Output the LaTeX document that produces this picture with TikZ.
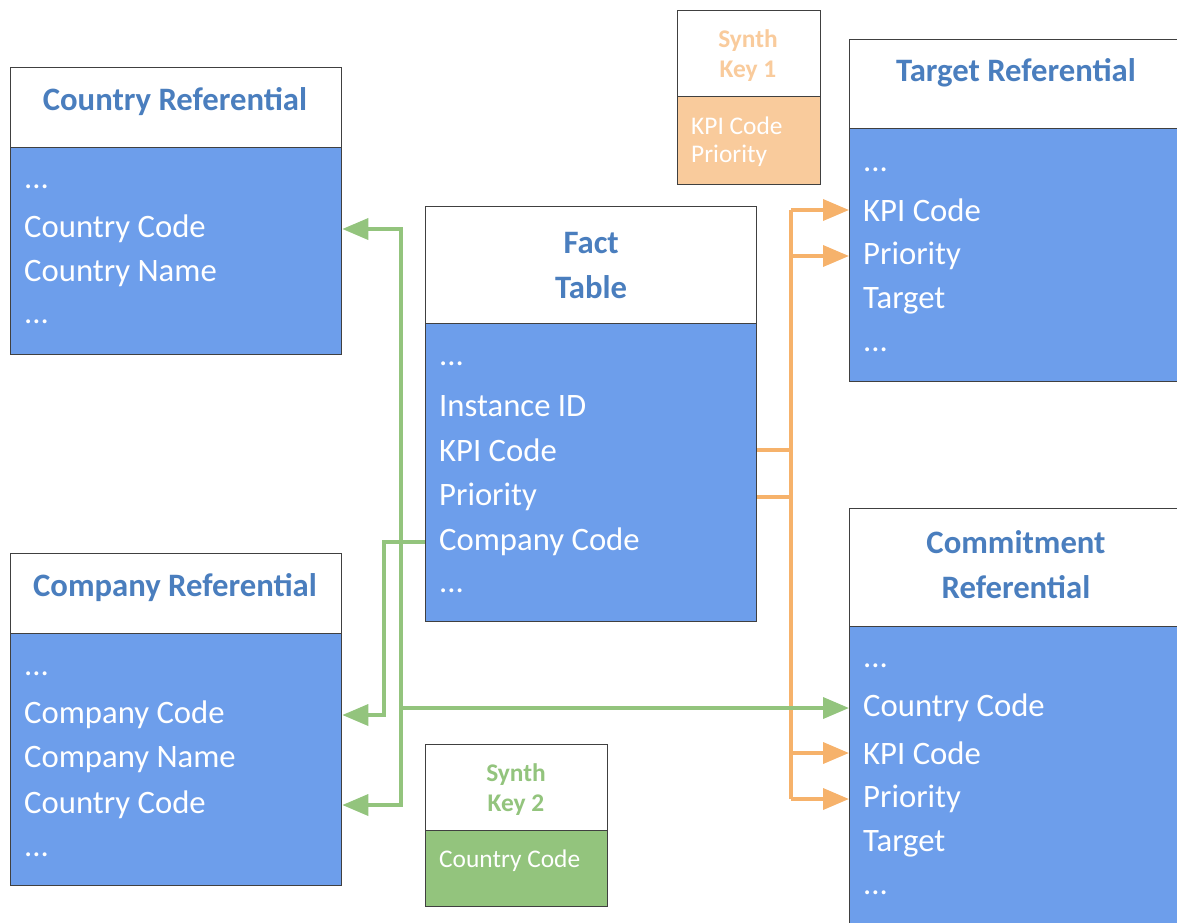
\documentclass[tikz,border=0pt]{standalone}
\usepackage{fontspec}
\setmainfont{Carlito}
\usetikzlibrary{arrows.meta}
\definecolor{tblblue}{RGB}{109,158,235}
\definecolor{ttlblue}{RGB}{74,126,190}
\definecolor{keyorange}{RGB}{249,203,156}
\definecolor{lnorange}{RGB}{246,178,107}
\definecolor{keygreen}{RGB}{147,196,125}

\begin{document}
\begin{tikzpicture}[x=1pt,y=-1pt,>={Triangle[length=26pt,width=21pt]},
    tbl/.style={draw=black!75,line width=1.3pt,anchor=north west,inner sep=0pt},
    head/.style={tbl,fill=white},
    body/.style={tbl,fill=tblblue},
    ttl/.style={font=\fontsize{32.7}{45}\selectfont\bfseries,text=ttlblue,align=center},
    row/.style={font=\fontsize{32.7}{45}\selectfont,text=white,anchor=west,inner sep=0pt},
    keyttl/.style={font=\fontsize{25.4}{30}\selectfont\bfseries,align=center},
    keyrow/.style={font=\fontsize{25.4}{30}\selectfont,text=white,anchor=west,inner sep=0pt},
    oline/.style={draw=lnorange,line width=3.6pt},
    gline/.style={draw=keygreen,line width=3.6pt}]
    \useasboundingbox (0,0) rectangle (1177,922);
    \clip (0,0) rectangle (1177,922);

    % tables
    \node[head,minimum width=331pt,minimum height=80pt] (crh) at (10,67) {};
    \node[body,minimum width=331pt,minimum height=207pt] (crb) at (10,147) {};
    \node[head,minimum width=331pt,minimum height=80pt] (cph) at (10,553) {};
    \node[body,minimum width=331pt,minimum height=252pt] (cpb) at (10,633) {};
    \node[head,minimum width=331pt,minimum height=117pt] (fth) at (425,206) {};
    \node[body,minimum width=331pt,minimum height=298pt] (ftb) at (425,323) {};
    \node[head,minimum width=345pt,minimum height=89pt] (tgh) at (849,39) {};
    \node[body,minimum width=345pt,minimum height=253pt] (tgb) at (849,128) {};
    \node[head,minimum width=345pt,minimum height=118pt] (cmh) at (849,508) {};
    \node[body,minimum width=345pt,minimum height=320pt] (cmb) at (849,626) {};
    \node[head,minimum width=143pt,minimum height=86pt] (s1h) at (677,10) {};
    \node[tbl,fill=keyorange,minimum width=143pt,minimum height=88pt] (s1b) at (677,96) {};
    \node[head,minimum width=182pt,minimum height=86pt] (s2h) at (425,744) {};
    \node[tbl,fill=keygreen,minimum width=182pt,minimum height=76pt] (s2b) at (425,830) {};

    % titles
    \node[ttl] (crttl) at (175,102) {Country Referential};
    \node[ttl] (cpttl) at (175,588) {Company Referential};
    \node[ttl] (ftttl) at (fth.center) {Fact\\Table};
    \node[ttl] (tgttl) at (1016,73) {Target Referential};
    \node[ttl] (cmttl) at (1016,565) {Commitment\\Referential};
    \node[keyttl,text=keyorange] (s1ttl) at (748,56) {Synth\\Key 1};
    \node[keyttl,text=keygreen] (s2ttl) at (516,790) {Synth\\Key 2};

    % rows
    \node[row] (crdots1) at (24,187) {...};
    \node[row] (crcode) at (24,229) {Country Code};
    \node[row] (crname) at (24,274) {Country Name};
    \node[row] (crdots2) at (24,322) {...};

    \node[row] (cpdots1) at (24,674) {...};
    \node[row] (cpcomp) at (24,715) {Company Code};
    \node[row] (cpname) at (24,760) {Company Name};
    \node[row] (cpcntry) at (24,805) {Country Code};
    \node[row] (cpdots2) at (24,855) {...};

    \node[row] (ftdots1) at (439,364) {...};
    \node[row] (ftinst) at (439,406) {Instance ID};
    \node[row] (ftkpi) at (439,450) {KPI Code};
    \node[row] (ftprio) at (439,497) {Priority};
    \node[row] (ftcomp) at (439,542) {Company Code};
    \node[row] (ftdots2) at (439,591) {...};

    \node[row] (tgdots1) at (863,170) {...};
    \node[row] (tgkpi) at (863,210) {KPI Code};
    \node[row] (tgprio) at (863,256) {Priority};
    \node[row] (tgtarget) at (863,301) {Target};
    \node[row] (tgdots2) at (863,350) {...};

    \node[row] (cmdots1) at (863,666) {...};
    \node[row] (cmcntry) at (863,708) {Country Code};
    \node[row] (cmkpi) at (863,753) {KPI Code};
    \node[row] (cmprio) at (863,799) {Priority};
    \node[row] (cmtarget) at (863,844) {Target};
    \node[row] (cmdots2) at (863,893) {...};

    \node[keyrow] (s1kpi) at (691,126) {KPI Code};
    \node[keyrow] (s1prio) at (691,156) {Priority};
    \node[keyrow] (s2cntry) at (439,861) {Country Code};

    % orange links (synth key 1)
    \coordinate (ox) at (791,0);
    \draw[oline] (ftb.east |- ftkpi) -- ([xshift=2pt]ftkpi -| ox);
    \draw[oline] (ftb.east |- ftprio) -- ([xshift=2pt]ftprio -| ox);
    \draw[oline] (ox |- tgkpi) -- (ox |- cmprio);
    \draw[oline,->] (ox |- tgkpi) -- (tgb.west |- tgkpi);
    \draw[oline,->] (ox |- tgprio) -- (tgb.west |- tgprio);
    \draw[oline,->] (ox |- cmkpi) -- (cmb.west |- cmkpi);
    \draw[oline,->] (ox |- cmprio) -- (cmb.west |- cmprio);

    % green links (synth key 2)
    \coordinate (gx) at (401,0);
    \coordinate (gx2) at (384,0);
    \draw[gline,<->] (crb.east |- crcode) -- (crcode -| gx) -- (cpcntry -| gx) -- (cpb.east |- cpcntry);
    \draw[gline,->] (gx |- cmcntry) -- (cmb.west |- cmcntry);
    \draw[gline,->] (ftb.west |- ftcomp) -- (ftcomp -| gx2) -- (cpcomp -| gx2) -- (cpb.east |- cpcomp);
\end{tikzpicture}
\end{document}
